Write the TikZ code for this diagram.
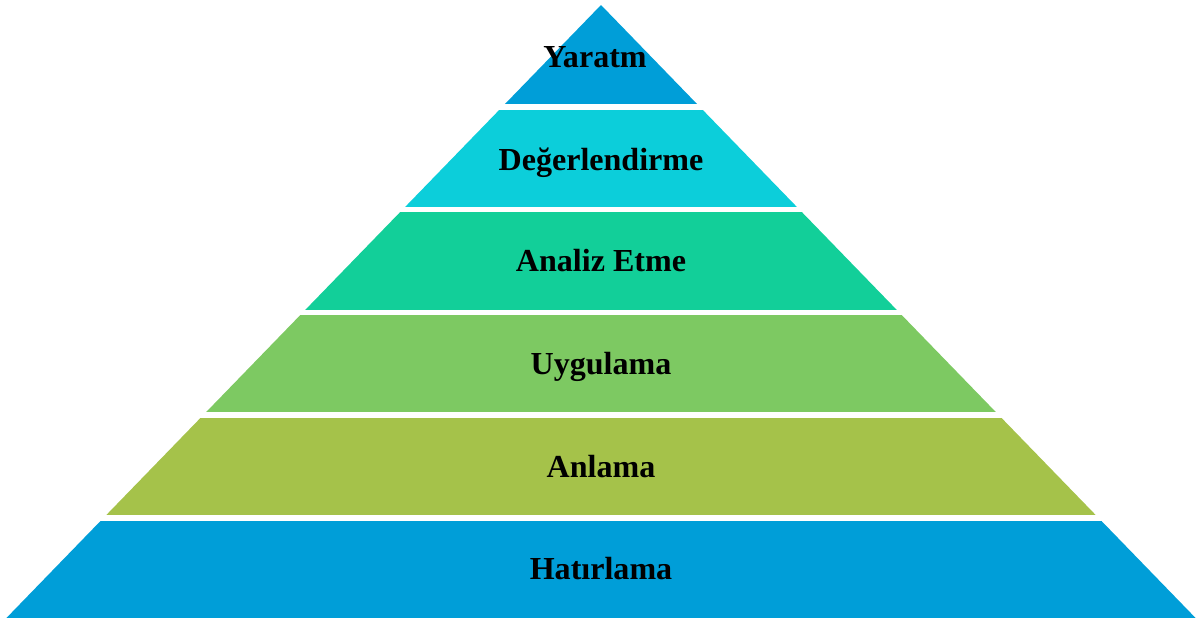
\documentclass[tikz,border=0pt]{standalone}
\usepackage{fontspec}
\setmainfont{Liberation Serif}
\usepackage{tikz}

\definecolor{levelblue}{RGB}{0,158,216}
\definecolor{levelcyan}{RGB}{12,206,218}
\definecolor{levelteal}{RGB}{18,207,153}
\definecolor{levelgreen}{RGB}{125,201,98}
\definecolor{levelolive}{RGB}{165,194,74}

\tikzset{level label/.style={anchor=base,font=\bfseries\fontsize{22.8}{27}\selectfont,inner sep=0pt}}

\begin{document}
\begin{tikzpicture}
   \begin{scope}[x=0.025cm,y=-0.025cm]
    \useasboundingbox (0,0) rectangle (1196,621);
    \begin{scope}
     \clip (601,5) -- (1195.6,618) -- (6.4,618) -- cycle;
     \fill[levelblue]  (0,  5) rectangle (1196,104);
     \fill[levelcyan]  (0,110) rectangle (1196,207);
     \fill[levelteal]  (0,212) rectangle (1196,310);
     \fill[levelgreen] (0,315) rectangle (1196,412);
     \fill[levelolive] (0,418) rectangle (1196,515);
     \fill[levelblue]  (0,521) rectangle (1196,618);
    \end{scope}
    \node[level label] (yaratm)   at (595, 67)   {Yaratm};
    \node[level label] (deger)    at (601,170)   {Değerlendirme};
    \node[level label] (analiz)   at (601,271)   {Analiz Etme};
    \node[level label] (uygulama) at (601,374)   {Uygulama};
    \node[level label] (anlama)   at (601,477)   {Anlama};
    \node[level label] (hatirlama) at (601,579.5) {Hatırlama};
   \end{scope}
  \end{tikzpicture}
\end{document}
